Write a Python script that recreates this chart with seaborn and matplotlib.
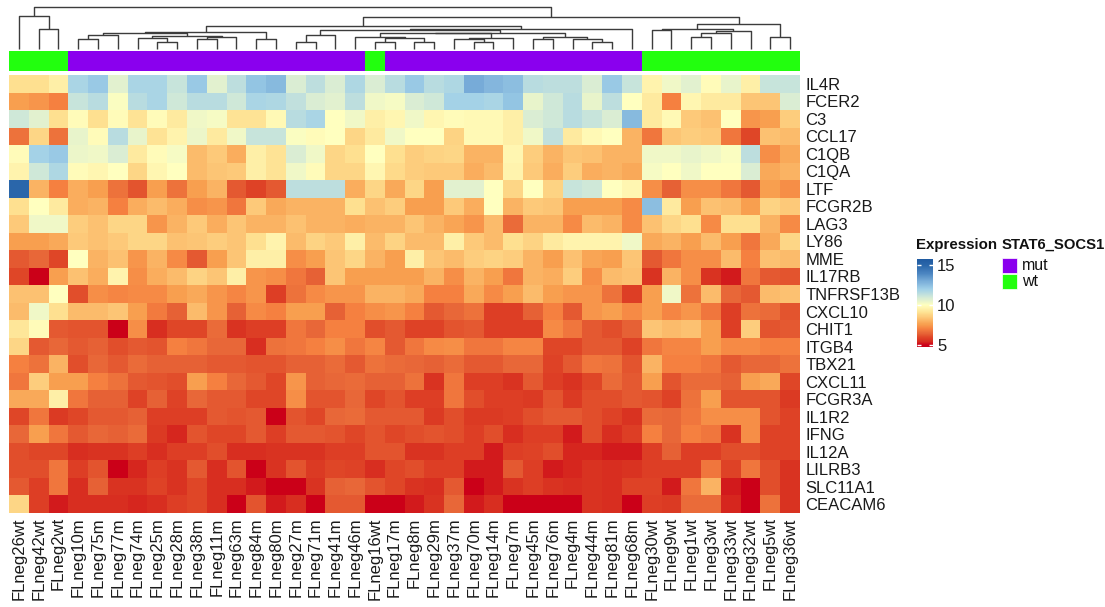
import numpy as np
import pandas as pd
import matplotlib
matplotlib.use("Agg")
import matplotlib.pyplot as plt
import seaborn as sns
from matplotlib.colors import LinearSegmentedColormap, ListedColormap, Normalize
from matplotlib.patches import Rectangle
import matplotlib.colorbar as mcolorbar

plt.rcParams['font.family'] = ['Liberation Sans', 'DejaVu Sans']

samples = ["FLneg26wt", "FLneg42wt", "FLneg2wt", "FLneg10m", "FLneg75m", "FLneg77m", "FLneg74m",
           "FLneg25m", "FLneg28m", "FLneg38m", "FLneg11m", "FLneg63m", "FLneg84m", "FLneg80m",
           "FLneg27m", "FLneg71m", "FLneg41m", "FLneg46m", "FLneg16wt", "FLneg17m", "FLneg8m",
           "FLneg29m", "FLneg37m", "FLneg70m", "FLneg14m", "FLneg7m", "FLneg45m", "FLneg76m",
           "FLneg4m", "FLneg44m", "FLneg81m", "FLneg68m", "FLneg30wt", "FLneg9wt", "FLneg1wt",
           "FLneg3wt", "FLneg33wt", "FLneg32wt", "FLneg5wt", "FLneg36wt"]

genes = ["IL4R", "FCER2", "C3", "CCL17", "C1QB", "C1QA", "LTF", "FCGR2B", "LAG3", "LY86", "MME",
         "IL17RB", "TNFRSF13B", "CXCL10", "CHIT1", "ITGB4", "TBX21", "CXCL11", "FCGR3A", "IL1R2",
         "IFNG", "IL12A", "LILRB3", "SLC11A1", "CEACAM6"]

IL4R = [9.0, 9.0, 9.5, 11.8, 12.2, 10.6, 11.8, 11.8, 11.2, 12.2, 10.6, 11.4, 12.3, 12.6, 10.8, 11.4, 10.8, 11.7, 10.8, 11.5,
        12.2, 11.5, 11.7, 13.0, 12.7, 12.5, 11.5, 11.4, 11.4, 10.8, 12.2, 11.2, 9.6, 10.3, 10.6, 9.9, 10.5, 9.5, 11.2, 11.2]
FCER2 = [7.6, 7.4, 7.0, 11.2, 11.5, 10.1, 11.5, 11.8, 11.0, 11.5, 11.5, 11.0, 11.8, 11.7, 11.3, 10.8, 10.6, 11.4, 10.3, 10.2,
         10.8, 11.0, 11.9, 11.9, 11.8, 12.3, 10.5, 11.0, 11.5, 10.5, 11.4, 10.0, 9.3, 7.0, 9.7, 9.3, 9.3, 8.4, 8.4, 10.8]
C3 = [11.0, 10.6, 9.0, 9.9, 9.0, 9.9, 9.1, 9.9, 9.3, 10.3, 10.2, 9.1, 9.1, 9.8, 11.5, 11.8, 10.0, 10.3, 9.5, 9.7,
      10.3, 9.7, 9.9, 9.8, 9.8, 9.5, 10.8, 11.0, 11.5, 11.2, 10.8, 12.6, 9.3, 9.8, 8.5, 8.3, 10.0, 7.4, 7.6, 8.6]
CCL17 = [6.7, 8.8, 6.7, 10.5, 9.9, 11.5, 10.5, 9.1, 9.6, 10.4, 9.3, 10.3, 11.2, 11.2, 10.1, 9.9, 10.0, 8.8, 9.3, 10.3,
         10.0, 10.0, 8.7, 9.8, 9.8, 9.5, 10.3, 11.3, 9.3, 9.8, 10.0, 8.0, 6.8, 8.4, 8.6, 8.5, 6.8, 6.0, 8.3, 8.2]
C1QB = [9.9, 11.9, 12.2, 10.4, 10.3, 10.8, 9.3, 9.9, 10.2, 8.2, 8.5, 7.9, 9.5, 9.1, 10.8, 10.3, 8.8, 9.0, 10.0, 9.0,
        8.6, 8.7, 8.8, 8.0, 8.0, 9.7, 8.6, 8.0, 8.4, 8.3, 8.0, 8.0, 10.3, 10.3, 10.5, 10.3, 10.1, 11.4, 7.3, 7.8]
C1QA = [9.6, 11.0, 11.7, 9.9, 9.7, 10.0, 8.8, 9.7, 10.0, 8.2, 8.4, 8.5, 9.5, 9.1, 10.3, 9.9, 8.8, 8.8, 9.7, 8.9,
        8.6, 8.5, 8.5, 7.9, 8.2, 9.6, 8.5, 7.9, 8.6, 7.9, 8.0, 7.8, 10.2, 10.0, 10.3, 10.0, 10.0, 10.8, 7.8, 8.0]
LTF = [15.0, 8.0, 7.0, 7.9, 7.6, 6.7, 6.2, 7.6, 6.7, 7.6, 8.0, 6.3, 5.9, 6.3, 11.4, 11.4, 11.4, 7.9, 8.8, 7.8,
       8.8, 7.6, 10.6, 10.6, 10.0, 8.8, 10.0, 8.7, 11.2, 11.0, 10.0, 9.7, 7.3, 6.4, 7.3, 7.3, 6.8, 6.3, 7.6, 7.3]
FCGR2B = [9.0, 10.0, 9.3, 7.9, 8.0, 7.0, 7.9, 8.2, 7.9, 7.3, 7.4, 6.8, 8.5, 7.8, 8.0, 8.0, 8.0, 9.0, 8.3, 8.6,
          7.6, 7.6, 8.5, 7.9, 10.0, 8.0, 8.5, 8.4, 7.6, 7.6, 7.6, 7.2, 12.5, 9.3, 7.6, 8.3, 8.2, 7.6, 8.7, 8.5]
LAG3 = [8.5, 10.3, 10.3, 8.6, 8.3, 8.8, 8.8, 7.4, 8.0, 8.5, 7.9, 8.4, 8.0, 8.0, 8.3, 8.0, 8.0, 7.9, 8.0, 8.0,
        8.4, 8.0, 7.7, 7.4, 8.2, 6.6, 8.0, 8.0, 7.2, 8.2, 8.0, 7.2, 8.3, 8.8, 9.0, 7.2, 9.0, 9.0, 8.0, 7.2]
LY86 = [7.6, 7.6, 7.8, 8.5, 8.3, 8.5, 8.8, 8.8, 8.3, 8.4, 8.6, 8.4, 9.0, 9.6, 8.2, 8.7, 8.5, 9.5, 8.2, 8.7,
        8.2, 8.2, 9.5, 8.5, 8.2, 9.0, 8.7, 9.3, 9.6, 9.6, 9.6, 10.3, 7.8, 8.0, 7.6, 8.2, 7.6, 6.8, 7.8, 8.8]
MME = [6.3, 6.5, 6.0, 10.0, 8.0, 8.3, 7.4, 8.0, 7.2, 6.3, 7.6, 8.4, 9.5, 9.5, 7.3, 7.6, 8.4, 8.8, 8.0, 7.6,
       9.5, 8.4, 8.2, 8.6, 8.7, 8.6, 8.0, 7.6, 8.3, 7.7, 7.6, 8.4, 6.3, 6.8, 7.3, 7.3, 8.2, 7.0, 8.3, 8.2]
IL17RB = [6.0, 5.0, 7.6, 8.3, 7.9, 9.6, 7.3, 7.9, 8.2, 8.7, 8.4, 9.5, 7.4, 7.3, 6.8, 6.4, 8.4, 7.6, 7.6, 7.6,
          7.6, 8.0, 7.3, 8.0, 7.6, 6.8, 8.0, 7.9, 8.6, 7.3, 8.2, 8.3, 5.6, 8.0, 7.3, 5.6, 5.3, 6.8, 6.3, 6.2]
TNFRSF13B = [8.3, 8.3, 10.0, 6.1, 7.3, 7.1, 7.2, 7.2, 7.6, 7.8, 7.4, 7.1, 7.4, 5.8, 6.7, 7.2, 7.4, 7.4, 8.0, 8.0,
             7.8, 7.0, 7.0, 7.8, 7.2, 7.6, 8.2, 7.6, 7.4, 7.4, 6.7, 5.8, 7.6, 10.3, 6.7, 8.2, 6.5, 6.3, 8.2, 8.3]
CXCL10 = [8.2, 10.3, 9.0, 8.2, 8.2, 8.4, 7.6, 6.9, 6.4, 8.2, 7.4, 6.4, 7.2, 7.0, 7.6, 7.6, 6.4, 7.0, 7.3, 7.4,
          7.0, 6.3, 6.5, 6.7, 5.8, 5.8, 6.4, 7.0, 6.3, 7.4, 7.6, 7.2, 7.6, 7.1, 7.4, 6.8, 5.8, 6.7, 6.6, 6.2]
CHIT1 = [9.2, 9.9, 6.3, 6.2, 6.2, 5.0, 7.3, 5.5, 6.0, 6.0, 6.6, 5.6, 5.8, 5.8, 6.8, 6.5, 7.0, 7.0, 6.1, 6.3,
         5.9, 5.9, 6.2, 6.3, 5.8, 5.8, 5.8, 7.2, 6.8, 6.3, 6.1, 6.4, 8.4, 8.2, 8.3, 7.6, 5.8, 8.6, 6.2, 6.3]
ITGB4 = [8.8, 6.3, 6.5, 6.3, 6.4, 6.1, 6.3, 6.2, 7.0, 6.8, 6.5, 6.5, 5.5, 6.7, 6.8, 7.0, 7.3, 6.8, 7.1, 6.3,
         6.8, 7.2, 7.3, 6.8, 6.8, 7.1, 7.1, 6.0, 6.0, 6.3, 6.3, 5.9, 6.8, 7.1, 7.1, 7.6, 7.2, 7.2, 7.0, 7.0]
TBX21 = [7.0, 6.7, 8.0, 6.1, 6.5, 6.3, 6.6, 6.4, 6.4, 6.4, 6.3, 6.3, 6.2, 6.2, 6.4, 6.4, 6.6, 6.3, 6.7, 6.6,
         6.5, 6.4, 6.6, 6.3, 6.3, 6.5, 6.5, 5.9, 6.3, 6.8, 6.7, 6.2, 8.0, 7.0, 7.0, 6.8, 6.3, 6.5, 6.5, 6.7]
CXCL11 = [6.8, 8.6, 7.6, 7.6, 7.0, 6.7, 6.3, 6.2, 6.1, 7.6, 7.0, 6.5, 6.3, 6.0, 7.4, 6.4, 6.5, 6.6, 6.4, 6.4,
          6.7, 5.6, 6.8, 5.8, 5.8, 5.6, 6.3, 5.8, 5.6, 6.0, 6.6, 6.3, 7.6, 6.2, 6.6, 6.6, 6.4, 7.6, 7.8, 6.0]
FCGR3A = [7.8, 7.8, 9.5, 6.8, 6.4, 6.4, 5.9, 6.4, 5.9, 6.5, 6.3, 6.3, 6.0, 6.0, 7.3, 6.2, 6.2, 6.5, 6.0, 6.2,
          5.8, 5.8, 6.8, 6.1, 5.8, 5.8, 5.7, 6.2, 5.7, 6.1, 6.1, 6.3, 6.2, 5.9, 6.7, 7.6, 6.2, 6.2, 6.2, 5.7]
IL1R2 = [6.0, 6.8, 5.7, 6.0, 6.3, 6.3, 6.4, 5.8, 5.8, 5.8, 6.3, 6.2, 6.3, 5.0, 6.2, 6.0, 6.5, 6.6, 6.3, 6.3,
         6.3, 5.7, 6.1, 5.7, 5.7, 5.8, 6.1, 6.3, 6.3, 6.1, 5.9, 5.6, 6.6, 6.5, 6.8, 7.3, 7.3, 7.3, 6.2, 5.9]
IFNG = [6.5, 7.6, 6.8, 6.3, 6.5, 6.4, 6.6, 5.7, 5.4, 6.2, 6.0, 6.0, 6.3, 5.8, 6.3, 6.3, 6.2, 6.0, 6.2, 6.0,
        6.1, 6.2, 6.1, 5.8, 6.1, 5.5, 5.8, 5.8, 5.3, 6.1, 5.5, 5.8, 7.0, 6.5, 7.0, 6.8, 5.6, 7.3, 5.9, 5.9]
IL12A = [6.1, 6.0, 6.0, 5.5, 5.6, 5.6, 5.8, 5.5, 5.8, 5.8, 6.1, 5.5, 5.5, 5.6, 5.6, 5.6, 5.8, 5.8, 6.2, 6.2,
         5.6, 5.6, 5.8, 5.8, 5.3, 5.8, 5.9, 6.1, 5.4, 5.4, 5.3, 5.3, 5.8, 6.4, 5.8, 5.8, 6.1, 6.1, 5.9, 5.9]
LILRB3 = [6.1, 6.1, 6.8, 5.8, 6.2, 5.0, 5.4, 5.8, 5.6, 6.3, 5.5, 6.2, 5.0, 5.6, 6.2, 5.7, 6.0, 5.9, 5.5, 6.0,
          6.1, 5.8, 5.8, 5.3, 5.3, 6.3, 5.8, 5.3, 5.4, 5.6, 5.5, 5.6, 5.8, 5.8, 5.8, 6.8, 5.9, 6.8, 6.1, 5.6]
SLC11A1 = [6.3, 5.8, 6.8, 5.5, 6.4, 5.6, 5.6, 5.9, 5.6, 6.0, 5.5, 5.5, 5.3, 5.0, 5.0, 5.6, 6.4, 6.5, 6.2, 6.0,
           5.6, 5.5, 6.3, 5.0, 5.3, 5.6, 5.8, 5.6, 5.5, 5.6, 5.5, 5.9, 5.9, 5.3, 6.8, 8.0, 5.3, 5.0, 6.1, 5.6]
CEACAM6 = [8.8, 5.8, 5.3, 5.5, 5.5, 5.5, 5.4, 5.5, 5.8, 6.0, 5.5, 5.0, 6.2, 5.3, 5.5, 5.0, 6.3, 6.3, 5.0, 5.0,
           5.3, 5.6, 6.5, 5.3, 5.5, 5.0, 5.0, 5.0, 5.0, 5.6, 5.5, 5.0, 5.8, 5.7, 6.6, 6.6, 5.4, 5.0, 6.7, 5.6]

rows = [IL4R, FCER2, C3, CCL17, C1QB, C1QA, LTF, FCGR2B, LAG3, LY86, MME, IL17RB, TNFRSF13B,
        CXCL10, CHIT1, ITGB4, TBX21, CXCL11, FCGR3A, IL1R2, IFNG, IL12A, LILRB3, SLC11A1, CEACAM6]

groups = ["wt" if s.endswith("wt") else "mut" for s in samples]
group_levels = ["mut", "wt"]

# column dendrogram: (left, right, merge height); leaves are column positions
col_tree = (
    (0, (1, 2, 19.7), 33.0),
    (
        (
            ((((3, 4, 9.7), 5, 14.0), ((6, (7, 8, 7.3), 11.3), ((9, 10, 9.7), 11, 12.3), 13.0), 15.7),
             (12, 13, 9.7), 16.7),
            ((((14, 15, 7.3), 16, 14.0),
              (((17, ((18, 19, 7.3), (20, 21, 7.3), 10.7), 12.0), ((22, (23, 24, 7.3), 9.7), 25, 11.3), 15.7),
               ((26, 27, 9.7), (28, (29, 30, 7.3), 9.7), 11.7), 16.3),
              19.0), 31, 20.0),
            23.0),
        (((32, 33, 19.0), (((34, 35, 11.7), 36, 15.7), 37, 18.3), 20.3), (38, 39, 11.7), 24.7),
        32.3),
    41.7)

df = pd.DataFrame(rows, index=genes, columns=samples)

vmin, vmax = 4.7, 15.8
anchors = [(4.7, '#c60018'), (5.0, '#cc0018'), (5.5, '#d83020'), (6.0, '#e04828'), (6.5, '#e86838'),
           (7.0, '#f58040'), (7.6, '#f8a050'), (8.3, '#fcc070'), (9.0, '#fee090'), (10.0, '#ffffbf'),
           (11.0, '#d0e8d8'), (12.0, '#a0d0e8'), (13.0, '#78acd8'), (14.0, '#4a84c0'), (15.0, '#2a66aa'),
           (15.8, '#1f5aa0')]
cmap = LinearSegmentedColormap.from_list('expr', [((v - vmin) / (vmax - vmin), c) for v, c in anchors])
norm = Normalize(vmin=vmin, vmax=vmax)

W, H = 1105, 607
fig = plt.figure(figsize=(W / 100, H / 100), dpi=100)

def fax(x0, y0, x1, y1):
    return fig.add_axes([x0 / W, 1 - y1 / H, (x1 - x0) / W, (y1 - y0) / H])

hx0, hx1 = 9, 800
ax_h = fax(hx0, 75, hx1, 513)
sns.heatmap(df, cmap=cmap, vmin=vmin, vmax=vmax, cbar=False, ax=ax_h,
            xticklabels=True, yticklabels=True, linewidths=0)
ax_h.yaxis.tick_right()
ax_h.tick_params(axis='both', length=0, labelsize=12, colors='#1a1a1a')
ax_h.tick_params(axis='y', pad=4)
ax_h.tick_params(axis='x', pad=3)
plt.setp(ax_h.get_yticklabels(), rotation=0, ha='left')
plt.setp(ax_h.get_xticklabels(), rotation=90, va='top')
ax_h.set_xlabel('')
ax_h.set_ylabel('')

# annotation bar
ax_a = fax(hx0, 50.7, hx1, 71)
codes = pd.DataFrame([[group_levels.index(g) for g in groups]], columns=samples)
ann_cols = {'mut': '#8a00ee', 'wt': '#22ff0e'}
sns.heatmap(codes, cmap=ListedColormap([ann_cols[g] for g in group_levels]), vmin=-0.5, vmax=1.5,
            cbar=False, ax=ax_a, xticklabels=False, yticklabels=False)
ax_a.set_xlabel('')
ax_a.set_ylabel('')

# dendrogram
ax_d = fax(hx0, 7.3, hx1, 49)
def draw(node):
    if isinstance(node, int):
        return node + 0.5, 0.0
    l, r, h = node
    xl, hl = draw(l)
    xr, hr = draw(r)
    ax_d.plot([xl, xl, xr, xr], [hl, h, h, hr], color='#3c3c3c', lw=1.0,
              solid_capstyle='butt', clip_on=False)
    return (xl + xr) / 2, h
draw(col_tree)
ax_d.set_xlim(0, len(samples))
ax_d.set_ylim(0, col_tree[2])
ax_d.axis('off')

# expression colour bar
cax = fax(917, 258.6, 933, 347.4)
cb = mcolorbar.ColorbarBase(cax, cmap=cmap, norm=norm, ticks=[5, 10, 15])
cb.outline.set_visible(False)
cax.tick_params(which='both', direction='in', length=3, width=1, color='white',
                left=True, right=True, labelleft=False, labelright=True, labelsize=12, pad=3)
cax.minorticks_off()
for t in cax.get_yticklabels():
    t.set_color('#1a1a1a')
fig.text(916 / W, 1 - 245 / H, 'Expression', fontsize=10.8, fontweight='bold', va='center', ha='left',
         color='#111111')

# annotation legend
fig.text(1002 / W, 1 - 245 / H, 'STAT6_SOCS1', fontsize=10.7, fontweight='bold', va='center', ha='left',
         color='#111111')
for i, g in enumerate(group_levels):
    y0 = 258 + i * 16
    fig.patches.append(Rectangle((1002 / W, 1 - (y0 + 15) / H), 15 / W, 15 / H,
                                 transform=fig.transFigure, facecolor=ann_cols[g], edgecolor='white', lw=0.5))
    fig.text(1022 / W, 1 - (y0 + 7.5) / H, g, fontsize=11.5, va='center', ha='left', color='#111111')

fig.savefig('out.png', dpi=100)
